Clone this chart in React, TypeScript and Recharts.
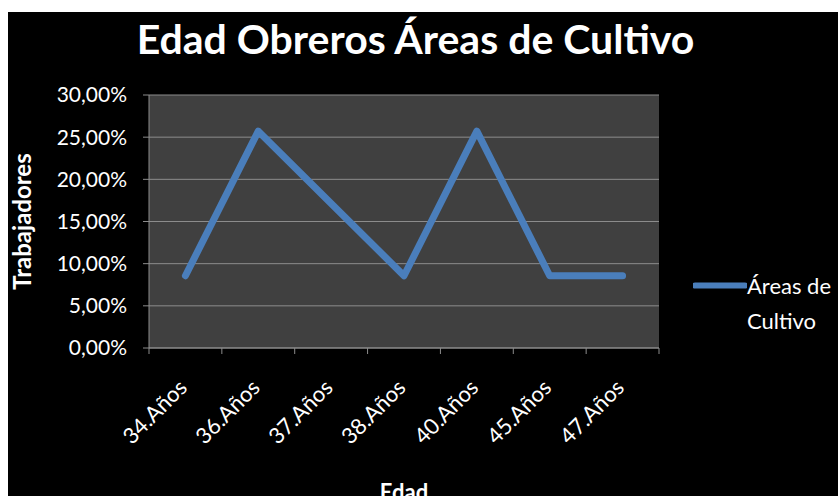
import React from 'react';
import { LineChart, Line, XAxis, YAxis, CartesianGrid, Legend, Label } from 'recharts';

const ages = ['34.Años', '36.Años', '37.Años', '38.Años', '40.Años', '45.Años', '47.Años'];
const shares = [8.57, 25.71, 17.14, 8.57, 25.71, 8.57, 8.57];
const yTicks = [0, 5, 10, 15, 20, 25, 30];

const data = ages.map((age, i) => ({ age, share: shares[i] }));

const colors = {
    bg: '#000000',
    plot: '#404040',
    grid: '#8c8c8c',
    line: '#4a7ebb',
    text: '#ffffff'
};

const font = "Lato, 'Open Sans', sans-serif";

// chart box sits 8px from the left and 12px from the top of the page
const W = 830;
const H = 484;
const half = 510 / ages.length / 2;

const fmtPct = (v: number) => v.toFixed(2).replace('.', ',') + '%';

const AgeTick = ({ x, y, payload, index }: any) => {
    const ax = x + 3;
    const ay = y + 33;
    return (
        <g>
            <line x1={x - half} y1={y - 8} x2={x - half} y2={y - 2} stroke={colors.grid} />
            {index === ages.length - 1 && (
                <line x1={x + half} y1={y - 8} x2={x + half} y2={y - 2} stroke={colors.grid} />
            )}
            <text
                x={ax}
                y={ay}
                transform={`rotate(-45, ${ax}, ${ay})`}
                textAnchor="end"
                fill={colors.text}
                fontSize={22}
                fontFamily={font}
            >
                {payload.value}
            </text>
        </g>
    );
};

const LegendBox = () => (
    <div style={{ display: 'flex', alignItems: 'flex-start', fontFamily: font, color: colors.text, fontSize: 22 }}>
        <svg width={54} height={35}>
            <line x1={2} y1={17.5} x2={52} y2={17.5} stroke={colors.line} strokeWidth={6} strokeLinecap="round" />
        </svg>
        <div style={{ lineHeight: '35px', whiteSpace: 'nowrap' }}>Áreas de<br />Cultivo</div>
    </div>
);

const YTitle = ({ viewBox }: any) => {
    const cy = viewBox.y + viewBox.height / 2;
    return (
        <text
            x={13}
            y={cy}
            transform={`rotate(-90, 13, ${cy})`}
            textAnchor="middle"
            dominantBaseline="central"
            fill={colors.text}
            fontSize={24}
            fontWeight={700}
            fontFamily={font}
        >
            Trabajadores
        </text>
    );
};

const XTitle = ({ viewBox }: any) => (
    <text
        x={viewBox.x + viewBox.width / 2}
        y={488}
        textAnchor="middle"
        fill={colors.text}
        fontSize={22}
        fontWeight={700}
        fontFamily={font}
    >
        Edad
    </text>
);

export default function App() {
    return (
        <div style={{ position: 'absolute', left: 8, top: 12, width: W, height: H, background: colors.bg, overflow: 'hidden' }}>
            <div
                style={{
                    position: 'absolute',
                    top: 2,
                    left: 0,
                    width: 815,
                    textAlign: 'center',
                    fontFamily: font,
                    fontWeight: 700,
                    fontSize: 41,
                    color: colors.text,
                    whiteSpace: 'nowrap'
                }}
            >
                Edad Obreros Áreas de Cultivo
            </div>
            <LineChart
                width={W}
                height={H}
                data={data}
                margin={{ top: 83, right: 179, left: 9, bottom: 0 }}
                style={{ position: 'absolute', left: 0, top: 0 }}
            >
                <CartesianGrid stroke={colors.grid} fill={colors.plot} vertical={false} />
                <XAxis
                    dataKey="age"
                    height={148}
                    interval={0}
                    padding={{ left: half, right: half }}
                    stroke={colors.grid}
                    tickLine={false}
                    tick={<AgeTick />}
                >
                    <Label content={<XTitle />} />
                </XAxis>
                <YAxis
                    width={132}
                    domain={[0, 30]}
                    ticks={yTicks}
                    tickFormatter={fmtPct}
                    stroke={colors.grid}
                    tickLine={{ stroke: colors.grid }}
                    tickSize={6}
                    tickMargin={16}
                    tick={{ fill: colors.text, fontSize: 21, fontFamily: font }}
                >
                    <Label content={<YTitle />} />
                </YAxis>
                <Legend
                    layout="horizontal"
                    verticalAlign="middle"
                    align="center"
                    content={<LegendBox />}
                    wrapperStyle={{ position: 'absolute', left: 685, top: 256, width: 145 }}
                />
                <Line
                    type="linear"
                    dataKey="share"
                    name="Áreas de Cultivo"
                    stroke={colors.line}
                    strokeWidth={7}
                    strokeLinejoin="round"
                    strokeLinecap="round"
                    dot={false}
                    isAnimationActive={false}
                />
            </LineChart>
        </div>
    );
}
